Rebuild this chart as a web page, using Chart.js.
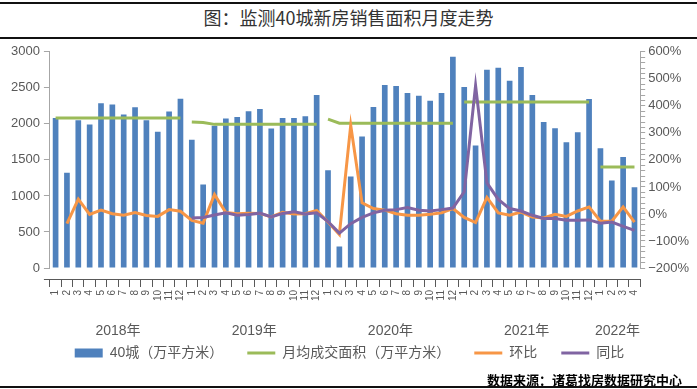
<!DOCTYPE html>
<html>
<head>
<meta charset="utf-8">
<script src="https://cdn.jsdelivr.net/npm/chart.js@4"></script>
<style>
  body { margin: 0; background: #fff; }
  #page { position: relative; width: 697px; height: 389px; overflow: hidden; }
  #title { position: absolute; left: 0; top: 2px; width: 697px; height: 33px; border-top: 2px solid #111; border-bottom: 2px solid #111;
           text-align: center; line-height: 33px; font: 18px 'Noto Sans CJK SC', sans-serif; color: #333; }
  #chart { position: absolute; left: 0; top: 40px; }
  #source { position: absolute; right: 15px; top: 372px; font: bold 13px 'Noto Sans CJK SC', sans-serif; line-height: 16px; color: #000; }
  #rule { position: absolute; left: 0; top: 386px; width: 697px; border-top: 2px solid #111; }
</style>
</head>
<body>
<div id="page">
  <div id="title">图：监测40城新房销售面积月度走势</div>
  <canvas id="chart" width="697" height="346"></canvas>
  <div id="source">数据来源：诸葛找房数据研究中心</div>
  <div id="rule"></div>
</div>
<script>
const years = ['2018年', '2019年', '2020年', '2021年', '2022年'];
const monthsInYear = [12, 12, 12, 12, 4];

const months = [];
const yearIndex = [];
years.forEach((y, i) => {
    for (let m = 1; m <= monthsInYear[i]; m++) {
        months.push(String(m));
        yearIndex.push(i);
    }
});
const categories = months.map((m, i) => years[yearIndex[i]] + m + '月');

// 40城成交面积（万平方米）
const area40 = [
    2080, 1320, 2050, 1990, 2285, 2270, 2130, 2230, 2050, 1890, 2170, 2350,
    1780, 1160, 1975, 2075, 2095, 2175, 2205, 1935, 2080, 2080, 2105, 2400,
    1355, 300, 1270, 1825, 2235, 2540, 2525, 2430, 2390, 2320, 2430, 2930,
    2510, 1700, 2750, 2780, 2600, 2790, 2400, 2025, 1940, 1745, 1885, 2345,
    1660, 1215, 1540, 1120
];

// 月均成交面积（万平方米）
const monthlyAvg = [
    2080, 2080, 2080, 2080, 2080, 2080, 2080, 2080, 2080, 2080, 2080, 2080,
    2025, 2020, 1993, 1993, 1993, 1993, 1993, 1993, 1993, 1993, 1993, 1993,
    2065, 2010, 2010, 2010, 2010, 2010, 2010, 2010, 2010, 2010, 2010, 2010,
    2305, 2305, 2305, 2305, 2305, 2305, 2305, 2305, 2305, 2305, 2305, 2305,
    1400, 1400, 1400, 1400
];

// 环比 (%)
const momChange = [
    null, -36, 55, -2, 14, 1, -5, 5, -6, -9, 16, 10,
    -24, -34, 72, 5, 1, 3, 2, -11, 6, 0, 1, 13,
    -30, -76, 328, 41, 20, 14, 1, -5, -5, -1, 4, 20,
    -13, -32, 61, 4, -5, 7, -11, -15, -1, -9, 11, 26,
    -27, -27, 26, -30
];

// 同比 (%)
const yoyChange = [
    null, null, null, null, null, null, null, null, null, null, null, null,
    -15, -13, -4, 4, -5, -2, 3, -11, 2, 8, 0, 4,
    -28, -71, -36, -13, 4, 14, 16, 24, 14, 11, 16, 22,
    82, 475, 115, 54, 20, 11, -5, -17, -17, -23, -23, -22,
    -34, -30, -46, -61
];

const axisGray = '#a6a6a6';
const textGray = '#595959';
Chart.defaults.font.family = "'Liberation Sans', 'Noto Sans CJK SC', sans-serif";

const yearLabels = {
    id: 'yearLabels',
    afterDraw(chart) {
        const x = chart.scales.x;
        const axis = chart.scales.x2;
        const ctx = chart.ctx;
        ctx.save();
        ctx.font = "14px 'Liberation Sans', 'Noto Sans CJK SC', sans-serif";
        ctx.fillStyle = textGray;
        ctx.textAlign = 'center';
        ctx.textBaseline = 'middle';
        years.forEach((y, i) => {
            const first = yearIndex.indexOf(i);
            const last = yearIndex.lastIndexOf(i);
            ctx.fillText(y, (x.getPixelForValue(first) + x.getPixelForValue(last)) / 2, axis.top + 52);
        });
        // axis line runs out to the left tick marks
        ctx.strokeStyle = textGray;
        ctx.lineWidth = 1;
        ctx.beginPath();
        ctx.moveTo(chart.chartArea.left - 6, axis.top + 0.5);
        ctx.lineTo(chart.chartArea.left, axis.top + 0.5);
        ctx.stroke();
        ctx.restore();
    }
};

new Chart(document.getElementById('chart'), {
    type: 'bar',
    data: {
        labels: categories,
        datasets: [{
            label: '40城（万平方米）',
            data: area40,
            backgroundColor: '#4f81bd',
            borderWidth: 0,
            categoryPercentage: 0.5,
            barPercentage: 1,
            pointStyle: 'rect',
            yAxisID: 'y',
            order: 4
        }, {
            type: 'line',
            label: '月均成交面积（万平方米）',
            data: monthlyAvg,
            borderColor: '#9bbb59',
            backgroundColor: '#9bbb59',
            borderWidth: 3,
            pointRadius: 0,
            pointStyle: 'line',
            segment: {
                borderColor: ctx => yearIndex[ctx.p0DataIndex] === yearIndex[ctx.p1DataIndex] ? '#9bbb59' : 'rgba(0,0,0,0)'
            },
            yAxisID: 'y',
            order: 3
        }, {
            type: 'line',
            label: '环比',
            data: momChange,
            borderColor: '#f79646',
            backgroundColor: '#f79646',
            borderWidth: 3,
            pointRadius: 0,
            pointStyle: 'line',
            yAxisID: 'y2',
            order: 2
        }, {
            type: 'line',
            label: '同比',
            data: yoyChange,
            borderColor: '#8064a2',
            backgroundColor: '#8064a2',
            borderWidth: 3,
            pointRadius: 0,
            pointStyle: 'line',
            yAxisID: 'y2',
            order: 1
        }]
    },
    options: {
        responsive: false,
        animation: false,
        layout: {
            padding: { left: 7, right: 5, top: 5, bottom: 16 }
        },
        plugins: {
            legend: {
                position: 'bottom',
                labels: {
                    usePointStyle: true,
                    pointStyleWidth: 28,
                    boxHeight: 9,
                    padding: 24,
                    color: textGray,
                    font: { size: 14 },
                    sort: (a, b) => a.datasetIndex - b.datasetIndex
                }
            },
            tooltip: { enabled: false }
        },
        scales: {
            x: {
                weight: 0,
                grid: { display: false },
                border: { display: false },
                ticks: { display: false },
                afterFit: s => { s.height = 11; }
            },
            x2: {
                type: 'category',
                position: 'bottom',
                weight: 1,
                labels: months,
                offset: true,
                grid: {
                    offset: true,
                    drawOnChartArea: false,
                    tickLength: 8,
                    color: textGray
                },
                border: { display: true, color: textGray },
                ticks: {
                    minRotation: 90,
                    maxRotation: 90,
                    autoSkip: false,
                    padding: 3,
                    color: textGray,
                    font: { size: 10 }
                },
                afterFit: s => { s.height = 43; }
            },
            y: {
                position: 'left',
                min: 0,
                max: 3000,
                ticks: { stepSize: 500, color: textGray, font: { size: 13 }, padding: 4, callback: v => String(v) },
                grid: { drawOnChartArea: false, tickLength: 6, color: axisGray },
                border: { display: true, color: axisGray }
            },
            y2: {
                position: 'right',
                min: -200,
                max: 600,
                ticks: {
                    stepSize: 20,
                    autoSkip: false,
                    color: textGray,
                    font: { size: 13 },
                    padding: 3,
                    callback: v => (v % 100 === 0 ? (v < 0 ? '\u2212' + (-v) : v) + '%' : '')
                },
                grid: { drawOnChartArea: false, tickLength: 5, color: axisGray },
                border: { display: true, color: axisGray }
            }
        }
    },
    plugins: [yearLabels]
});
</script>
</body>
</html>
